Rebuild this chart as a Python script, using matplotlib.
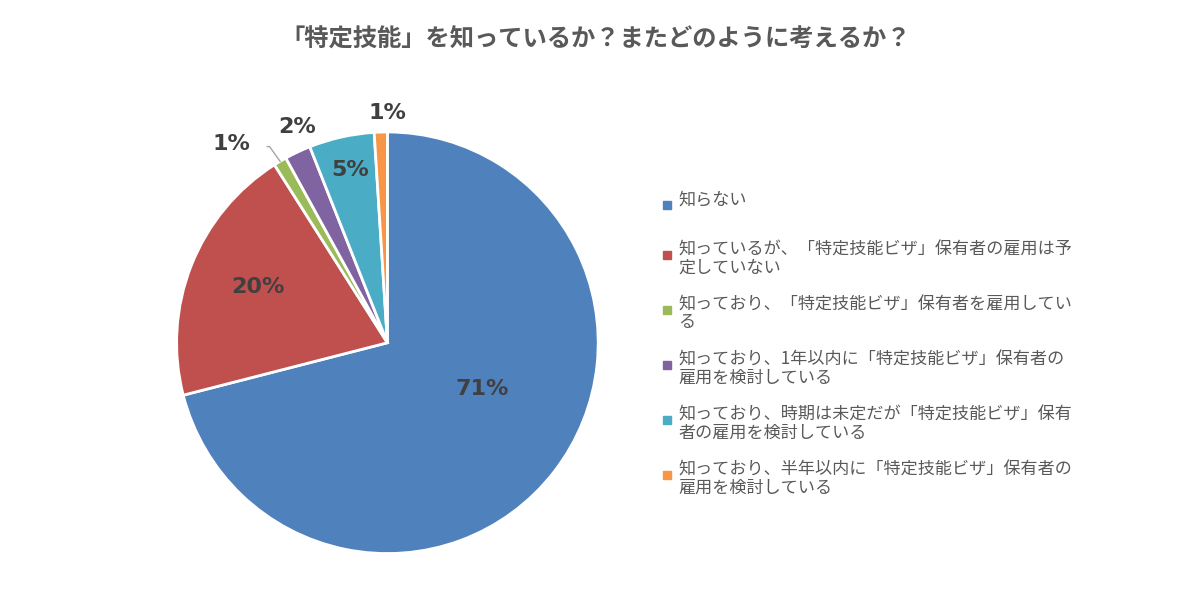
import numpy as np
import matplotlib.pyplot as plt

plt.rcParams['font.family'] = ['Noto Sans CJK JP', 'DejaVu Sans']

labels = [
    '知らない',
    '知っているが、「特定技能ビザ」保有者の雇用は予\n定していない',
    '知っており、「特定技能ビザ」保有者を雇用してい\nる',
    '知っており、1年以内に「特定技能ビザ」保有者の\n雇用を検討している',
    '知っており、時期は未定だが「特定技能ビザ」保有\n者の雇用を検討している',
    '知っており、半年以内に「特定技能ビザ」保有者の\n雇用を検討している',
]
values = [71, 20, 1, 2, 5, 1]
colors = ['#4F81BD', '#C0504D', '#9BBB59', '#8064A2', '#4BACC6', '#F79646']

fig = plt.figure(figsize=(11.92, 6.11), dpi=100)
ax = fig.add_axes([0.325 - 0.69 * 611 / 1192 / 2, 0.439 - 0.345, 0.69 * 611 / 1192, 0.69])
ax.pie(values, colors=colors, startangle=90, counterclock=False,
       wedgeprops=dict(edgecolor='white', linewidth=2))
ax.set_xlim(-1, 1)
ax.set_ylim(-1, 1)
ax.set_aspect('equal')

# label placement (radius factor, angle offset in degrees)
lab_r = [0.5, 0.67, 1.2, 1.11, 0.84, 1.09]
lab_off = [12, -1.5, 7.6, -2.6, -0.6, -1.8]
cum = np.cumsum([0] + values)
for i, v in enumerate(values):
    mid = 90 - 360 * (cum[i] + v / 2) / sum(values) + lab_off[i]
    a = np.deg2rad(mid)
    ax.text(lab_r[i] * np.cos(a), lab_r[i] * np.sin(a), f'{v}%',
            ha='center', va='center', fontsize=16, fontweight='bold', color='#404040',
            family='DejaVu Sans')

# leader line for the small green slice
a = np.deg2rad(90 - 360 * (cum[2] + values[2] / 2) / sum(values))
p0 = (1.0 * np.cos(a), 1.0 * np.sin(a))
ax.plot([p0[0], p0[0] - 0.05, -0.57], [p0[1], p0[1] + 0.07, p0[1] + 0.07],
        color='#A6A6A6', lw=1, clip_on=False)

fig.text(0.5, 0.935, '「特定技能」を知っているか？またどのように考えるか？',
         ha='center', va='center', fontsize=17.5, fontweight='bold', color='#595959')

ys = [200, 250, 305, 360, 415, 470]
for lab, c, y in zip(labels, colors, ys):
    fy = 1 - (y + 5) / 611
    fig.patches.append(plt.Rectangle((663 / 1192, fy - 4 / 611), 8 / 1192, 8 / 611,
                                     transform=fig.transFigure, color=c))
    fig.text(678 / 1192, 1 - (y - 9) / 611, lab, ha='left', va='top', fontsize=12.3,
             color='#595959', linespacing=0.95)

fig.savefig('out.png', dpi=100)
